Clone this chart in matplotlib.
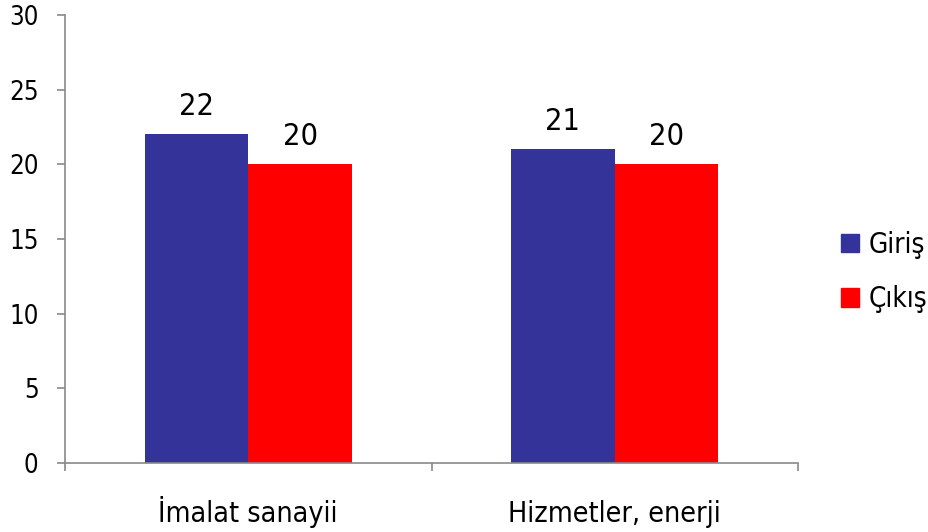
import matplotlib
matplotlib.use("Agg")
import matplotlib.pyplot as plt
from matplotlib.patches import Patch
import matplotlib.transforms as mtransforms
import numpy as np

categories = ["İmalat sanayii", "Hizmetler, enerji"]
series_names = ["Giriş", "Çıkış"]
giris = [22, 21]
cikis = [20, 20]
colors = ["#333399", "#FF0000"]
yticks = [0, 5, 10, 15, 20, 25, 30]

plt.rcParams['font.family'] = ['DejaVu Sans']
W, H = 929, 532
fig = plt.figure(figsize=(W/100, H/100), dpi=100)
ax = fig.add_axes([65/W, (H-463)/H, (798-65)/W, (463-15)/H])

x = np.arange(len(categories))
w = 0.283
b1 = ax.bar(x - w/2, giris, w, color=colors[0], label=series_names[0])
b2 = ax.bar(x + w/2, cikis, w, color=colors[1], label=series_names[1])

for bars, vals in ((b1, giris), (b2, cikis)):
    for r, v in zip(bars, vals):
        ax.annotate(f"{v}", (r.get_x() + r.get_width()/2, r.get_height()),
                    xytext=(0, 14), textcoords="offset points",
                    ha="center", va="baseline", fontsize=22, fontstretch='condensed')

ax.set_xlim(-0.5, len(categories) - 0.5)
ax.set_ylim(0, 30)
ax.set_yticks(yticks)
ax.set_yticklabels([str(t) for t in yticks], fontsize=18.5, fontstretch='condensed')
ax.set_xticks(np.arange(len(categories) + 1) - 0.5)
ax.set_xticklabels([""] * (len(categories) + 1))
ax.tick_params(axis='x', which='major', length=6, color="#898989", width=1.2)
ax.tick_params(axis='y', length=6, color="#898989", width=1.2, pad=13)

trans = mtransforms.blended_transform_factory(ax.transData, fig.transFigure)
for xi, c in zip(x, categories):
    ax.text(xi, 1 - 522/H, c, transform=trans, ha="center", va="baseline",
            fontsize=20.5, fontstretch='condensed')

for s in ("top", "right"):
    ax.spines[s].set_visible(False)
for s in ("left", "bottom"):
    ax.spines[s].set_color("#898989")
    ax.spines[s].set_linewidth(1.2)

handles = [Patch(color=c) for c in colors]
fig.legend(handles, series_names, loc="center left",
           bbox_to_anchor=(841/W, 1 - 272/H), frameon=False,
           borderaxespad=0, borderpad=0,
           prop={'size': 20, 'stretch': 'condensed'}, handlelength=0.65, handleheight=0.65,
           handletextpad=0.33, labelspacing=0.95)

fig.savefig("out.png", dpi=100)
